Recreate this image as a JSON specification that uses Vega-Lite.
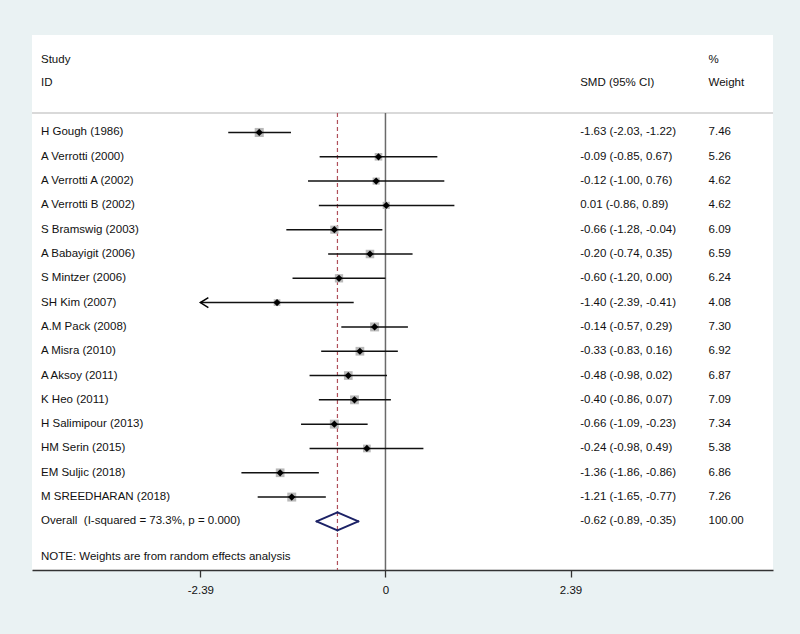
{
  "$schema": "https://vega.github.io/schema/vega-lite/v6.json",
  "width": 741,
  "height": 535,
  "autosize": "none",
  "padding": {"left": 32, "top": 35, "right": 27, "bottom": 64},
  "background": "#eaf2f3",
  "config": {
    "view": {"fill": "white", "stroke": null},
    "font": "Liberation Sans, Arial, sans-serif",
    "text": {"font": "Liberation Sans, Arial, sans-serif", "fontSize": 11.5, "color": "#111111", "baseline": "middle", "align": "left"}
  },
  "datasets": {
    "studies": [
      {"row": 1, "kind": "study", "label": "H Gough (1986)", "est": -1.63, "lo": -2.03, "hi": -1.22, "weight": 7.46, "ci": "-1.63 (-2.03, -1.22)"},
      {"row": 2, "kind": "study", "label": "A Verrotti (2000)", "est": -0.09, "lo": -0.85, "hi": 0.67, "weight": 5.26, "ci": "-0.09 (-0.85, 0.67)"},
      {"row": 3, "kind": "study", "label": "A Verrotti A (2002)", "est": -0.12, "lo": -1.0, "hi": 0.76, "weight": 4.62, "ci": "-0.12 (-1.00, 0.76)"},
      {"row": 4, "kind": "study", "label": "A Verrotti B (2002)", "est": 0.01, "lo": -0.86, "hi": 0.89, "weight": 4.62, "ci": "0.01 (-0.86, 0.89)"},
      {"row": 5, "kind": "study", "label": "S Bramswig (2003)", "est": -0.66, "lo": -1.28, "hi": -0.04, "weight": 6.09, "ci": "-0.66 (-1.28, -0.04)"},
      {"row": 6, "kind": "study", "label": "A Babayigit (2006)", "est": -0.2, "lo": -0.74, "hi": 0.35, "weight": 6.59, "ci": "-0.20 (-0.74, 0.35)"},
      {"row": 7, "kind": "study", "label": "S Mintzer (2006)", "est": -0.6, "lo": -1.2, "hi": 0.0, "weight": 6.24, "ci": "-0.60 (-1.20, 0.00)"},
      {"row": 8, "kind": "study", "label": "SH Kim (2007)", "est": -1.4, "lo": -2.39, "hi": -0.41, "weight": 4.08, "ci": "-1.40 (-2.39, -0.41)"},
      {"row": 9, "kind": "study", "label": "A.M Pack (2008)", "est": -0.14, "lo": -0.57, "hi": 0.29, "weight": 7.3, "ci": "-0.14 (-0.57, 0.29)"},
      {"row": 10, "kind": "study", "label": "A Misra (2010)", "est": -0.33, "lo": -0.83, "hi": 0.16, "weight": 6.92, "ci": "-0.33 (-0.83, 0.16)"},
      {"row": 11, "kind": "study", "label": "A Aksoy (2011)", "est": -0.48, "lo": -0.98, "hi": 0.02, "weight": 6.87, "ci": "-0.48 (-0.98, 0.02)"},
      {"row": 12, "kind": "study", "label": "K Heo (2011)", "est": -0.4, "lo": -0.86, "hi": 0.07, "weight": 7.09, "ci": "-0.40 (-0.86, 0.07)"},
      {"row": 13, "kind": "study", "label": "H Salimipour (2013)", "est": -0.66, "lo": -1.09, "hi": -0.23, "weight": 7.34, "ci": "-0.66 (-1.09, -0.23)"},
      {"row": 14, "kind": "study", "label": "HM Serin (2015)", "est": -0.24, "lo": -0.98, "hi": 0.49, "weight": 5.38, "ci": "-0.24 (-0.98, 0.49)"},
      {"row": 15, "kind": "study", "label": "EM Suljic (2018)", "est": -1.36, "lo": -1.86, "hi": -0.86, "weight": 6.86, "ci": "-1.36 (-1.86, -0.86)"},
      {"row": 16, "kind": "study", "label": "M SREEDHARAN (2018)", "est": -1.21, "lo": -1.65, "hi": -0.77, "weight": 7.26, "ci": "-1.21 (-1.65, -0.77)"},
      {"row": 17, "kind": "overall", "label": "Overall\u00a0 (I-squared = 73.3%, p = 0.000)", "est": -0.62, "lo": -0.89, "hi": -0.35, "weight": 100.0, "ci": "-0.62 (-0.89, -0.35)"}
    ],
    "one": [{"ref": 0}]
  },
  "data": {"name": "studies"},
  "layer": [
    {
      "data": {"name": "one"},
      "mark": {"type": "rule", "stroke": "#d9d9d9", "strokeWidth": 2},
      "encoding": {
        "x": {"datum": -4.564, "type": "quantitative", "scale": {"domain": [-4.564, 5.004], "nice": false, "zero": false},
              "axis": {"values": [-2.39, 0, 2.39], "labelExpr": "datum.value == 0 ? '0' : (datum.value < 0 ? '-' : '') + format(abs(datum.value), '.2f')", "title": null, "grid": false,
                       "domainColor": "#333333", "domainWidth": 1.5, "tickColor": "#333333", "tickWidth": 1.3, "tickSize": 7,
                       "labelFont": "Liberation Sans, Arial, sans-serif", "labelFontSize": 11.5, "labelColor": "#111111", "labelPadding": 7}},
        "x2": {"datum": 5.004},
        "y": {"datum": 0.2, "type": "quantitative", "scale": {"domain": [-3.01, 19.0], "reverse": true, "nice": false, "zero": false}, "axis": null}
      }
    },
    {
      "data": {"name": "one"},
      "mark": {"type": "rule", "stroke": "#6a6a6a", "strokeWidth": 1.5},
      "encoding": {"x": {"datum": 0, "type": "quantitative"}, "y": {"datum": 0.2, "type": "quantitative"}, "y2": {"datum": 19.0}}
    },
    {
      "transform": [{"filter": "datum.kind == 'overall'"}],
      "mark": {"type": "rule", "stroke": "#b0505a", "strokeWidth": 1.2, "strokeDash": [4, 3]},
      "encoding": {"x": {"field": "est", "type": "quantitative"}, "y": {"datum": 0.2, "type": "quantitative"}, "y2": {"datum": 19.0}}
    },
    {
      "transform": [{"filter": "datum.kind == 'study'"}],
      "mark": {"type": "point", "shape": "square", "filled": true, "color": "#b9b9b9", "opacity": 1},
      "encoding": {
        "x": {"field": "est", "type": "quantitative"},
        "y": {"field": "row", "type": "quantitative"},
        "size": {"field": "weight", "type": "quantitative", "scale": {"type": "linear", "domain": [0, 10], "range": [0, 110]}, "legend": null}
      }
    },
    {
      "transform": [{"filter": "datum.kind == 'study'"}],
      "mark": {"type": "rule", "stroke": "#111111", "strokeWidth": 1.5},
      "encoding": {"x": {"field": "lo", "type": "quantitative"}, "x2": {"field": "hi"}, "y": {"field": "row", "type": "quantitative"}}
    },
    {
      "transform": [{"filter": "datum.kind == 'study'"}],
      "mark": {"type": "point", "shape": "diamond", "filled": true, "color": "#000000", "size": 52, "opacity": 1},
      "encoding": {"x": {"field": "est", "type": "quantitative"}, "y": {"field": "row", "type": "quantitative"}}
    },
    {
      "transform": [{"filter": "datum.kind == 'study' && datum.lo <= -2.39"}],
      "mark": {"type": "point", "shape": "M 1.6 -1 L 0 0 L 1.6 1", "filled": false, "color": "#000000", "size": 100, "strokeWidth": 1.5, "opacity": 1},
      "encoding": {"x": {"field": "lo", "type": "quantitative"}, "y": {"field": "row", "type": "quantitative"}}
    },
    {
      "transform": [{"filter": "datum.kind == 'overall'"}],
      "layer": [
        {"mark": {"type": "rule", "stroke": "#1c2266", "strokeWidth": 2, "strokeCap": "round", "y2Offset": -9},
         "encoding": {"x": {"field": "lo", "type": "quantitative"}, "x2": {"field": "est"}, "y": {"field": "row", "type": "quantitative"}, "y2": {"field": "row"}}},
        {"mark": {"type": "rule", "stroke": "#1c2266", "strokeWidth": 2, "strokeCap": "round", "yOffset": -9},
         "encoding": {"x": {"field": "est", "type": "quantitative"}, "x2": {"field": "hi"}, "y": {"field": "row", "type": "quantitative"}, "y2": {"field": "row"}}},
        {"mark": {"type": "rule", "stroke": "#1c2266", "strokeWidth": 2, "strokeCap": "round", "y2Offset": 9},
         "encoding": {"x": {"field": "lo", "type": "quantitative"}, "x2": {"field": "est"}, "y": {"field": "row", "type": "quantitative"}, "y2": {"field": "row"}}},
        {"mark": {"type": "rule", "stroke": "#1c2266", "strokeWidth": 2, "strokeCap": "round", "yOffset": 9},
         "encoding": {"x": {"field": "est", "type": "quantitative"}, "x2": {"field": "hi"}, "y": {"field": "row", "type": "quantitative"}, "y2": {"field": "row"}}}
      ]
    },
    {
      "mark": {"type": "text"},
      "encoding": {"x": {"datum": -4.448, "type": "quantitative"}, "y": {"field": "row", "type": "quantitative"}, "text": {"field": "label"}}
    },
    {
      "mark": {"type": "text"},
      "encoding": {"x": {"datum": 2.514, "type": "quantitative"}, "y": {"field": "row", "type": "quantitative"}, "text": {"field": "ci"}}
    },
    {
      "mark": {"type": "text"},
      "encoding": {"x": {"datum": 4.172, "type": "quantitative"}, "y": {"field": "row", "type": "quantitative"}, "text": {"field": "weight", "format": ".2f"}}
    },
    {
      "data": {"name": "one"},
      "mark": {"type": "text", "text": "Study"},
      "encoding": {"x": {"datum": -4.448, "type": "quantitative"}, "y": {"datum": -2, "type": "quantitative"}}
    },
    {
      "data": {"name": "one"},
      "mark": {"type": "text", "text": "ID"},
      "encoding": {"x": {"datum": -4.448, "type": "quantitative"}, "y": {"datum": -1.04, "type": "quantitative"}}
    },
    {
      "data": {"name": "one"},
      "mark": {"type": "text", "text": "SMD (95% CI)"},
      "encoding": {"x": {"datum": 2.514, "type": "quantitative"}, "y": {"datum": -1.04, "type": "quantitative"}}
    },
    {
      "data": {"name": "one"},
      "mark": {"type": "text", "text": "%"},
      "encoding": {"x": {"datum": 4.172, "type": "quantitative"}, "y": {"datum": -2, "type": "quantitative"}}
    },
    {
      "data": {"name": "one"},
      "mark": {"type": "text", "text": "Weight"},
      "encoding": {"x": {"datum": 4.172, "type": "quantitative"}, "y": {"datum": -1.04, "type": "quantitative"}}
    },
    {
      "data": {"name": "one"},
      "mark": {"type": "text", "text": "NOTE: Weights are from random effects analysis"},
      "encoding": {"x": {"datum": -4.448, "type": "quantitative"}, "y": {"datum": 18.47, "type": "quantitative"}}
    }
  ]
}
